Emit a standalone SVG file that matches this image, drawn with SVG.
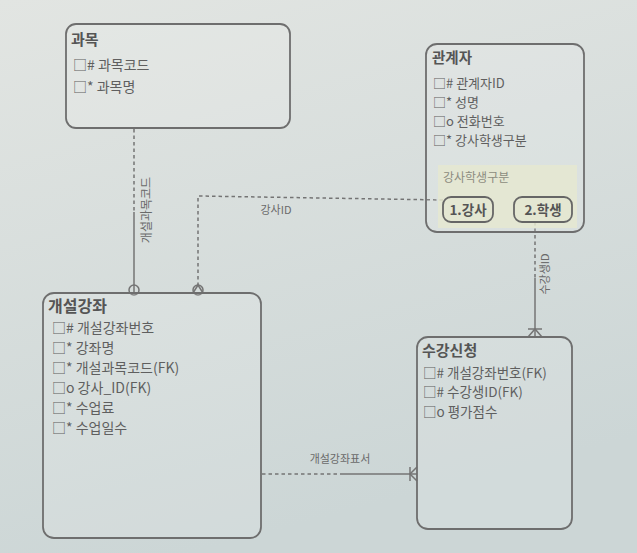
<svg xmlns="http://www.w3.org/2000/svg" width="637" height="553" viewBox="0 0 637 553">
<defs>
<linearGradient id="bg" x1="0" y1="0" x2="0.3" y2="1">
<stop offset="0" stop-color="#e2e5e2"/>
<stop offset="1" stop-color="#ccd6d6"/>
</linearGradient>
</defs>
<style>
.box{fill:#ffffff;fill-opacity:0.12;stroke:#6e6e6e;stroke-width:1.8}
.t{font-family:"Noto Sans CJK KR","Noto Sans",sans-serif;fill:#5f5f5f}
.title{font-weight:bold;fill:#555}
.ln{stroke:#747474;stroke-width:1.5;fill:none}
.dash{stroke-dasharray:3.5,3}
.lbl{font-family:"Noto Sans CJK KR","Noto Sans",sans-serif;fill:#6a6a6a;font-size:11px}
.btn{fill:#e4e7d2;stroke:#666;stroke-width:1.8}
</style>
<rect x="0" y="0" width="637" height="553" fill="url(#bg)"/>

<g id="connectors">
  <!-- 과목 - 개설강좌 -->
  <line class="ln dash" x1="134" y1="129" x2="134" y2="212"/>
  <line class="ln" x1="134" y1="212" x2="134" y2="293"/>
  <circle class="ln" cx="134" cy="290" r="5"/>
  <text class="lbl" transform="translate(151,210) rotate(-90)" text-anchor="middle" style="font-size:12px">개설과목코드</text>
  <!-- 관계자(강사) - 개설강좌 -->
  <polyline class="ln dash" points="443,200 198,196 198,286"/>
  <circle class="ln" cx="198" cy="290" r="5"/>
  <polyline class="ln" points="193,293 198,285 203,293"/>
  <text class="lbl" x="276" y="214" text-anchor="middle">강사ID</text>
  <!-- 관계자(학생) - 수강신청 -->
  <line class="ln dash" x1="535" y1="222" x2="535" y2="278"/>
  <line class="ln" x1="535" y1="278" x2="535" y2="337"/>
  <line class="ln" x1="528" y1="329" x2="542" y2="329"/>
  <polyline class="ln" points="528,337 535,329 542,337"/>
  <text class="lbl" transform="translate(549,274) rotate(-90)" text-anchor="middle">수강생ID</text>
  <!-- 개설강좌 - 수강신청 -->
  <line class="ln dash" x1="262" y1="474" x2="340" y2="474"/>
  <line class="ln" x1="340" y1="474" x2="417" y2="474"/>
  <line class="ln" x1="410" y1="467" x2="410" y2="481"/>
  <polyline class="ln" points="417,467 410,474 417,481"/>
  <text class="lbl" x="340" y="463" text-anchor="middle">개설강좌표서</text>
</g>

<g id="subject">
  <rect class="box" x="66" y="24" width="224" height="104" rx="10"/>
  <text class="t title" x="71" y="45" font-size="15">과목</text>
  <text class="t" x="73" y="70" font-size="14">□# 과목코드</text>
  <text class="t" x="73" y="92" font-size="14">□* 과목명</text>
</g>

<g id="person">
  <rect class="box" x="426" y="44" width="158" height="188" rx="11"/>
  <text class="t title" x="432" y="63" font-size="14.5">관계자</text>
  <text class="t" x="433" y="88" font-size="13">□# 관계자ID</text>
  <text class="t" x="433" y="107" font-size="13">□* 성명</text>
  <text class="t" x="433" y="126" font-size="13">□o 전화번호</text>
  <text class="t" x="433" y="145" font-size="13">□* 강사학생구분</text>
  <rect x="438" y="165" width="139" height="63" fill="#e6e9cf" fill-opacity="0.8"/>
  <text class="t" x="443" y="182" font-size="12" style="fill:#8c8c80">강사학생구분</text>
  <rect class="btn" x="443" y="197" width="50" height="25" rx="8"/>
  <text class="t title" x="468" y="215" font-size="13.5" text-anchor="middle">1.강사</text>
  <rect class="btn" x="514" y="197" width="58" height="25" rx="8"/>
  <text class="t title" x="543" y="215" font-size="13.5" text-anchor="middle">2.학생</text>
</g>

<g id="course">
  <rect class="box" x="43" y="293" width="218" height="245" rx="11"/>
  <text class="t title" x="48" y="312" font-size="16">개설강좌</text>
  <text class="t" x="52" y="333" font-size="14">□# 개설강좌번호</text>
  <text class="t" x="52" y="353" font-size="14">□* 강좌명</text>
  <text class="t" x="52" y="373" font-size="14">□* 개설과목코드(FK)</text>
  <text class="t" x="52" y="393" font-size="14">□o 강사_ID(FK)</text>
  <text class="t" x="52" y="413" font-size="14">□* 수업료</text>
  <text class="t" x="52" y="433" font-size="14">□* 수업일수</text>
</g>

<g id="enroll">
  <rect class="box" x="417" y="337" width="155" height="192" rx="11"/>
  <text class="t title" x="422" y="356" font-size="15">수강신청</text>
  <text class="t" x="423" y="378" font-size="13.5">□# 개설강좌번호(FK)</text>
  <text class="t" x="423" y="397" font-size="13.5">□# 수강생ID(FK)</text>
  <text class="t" x="423" y="417" font-size="13.5">□o 평가점수</text>
</g>
</svg>
